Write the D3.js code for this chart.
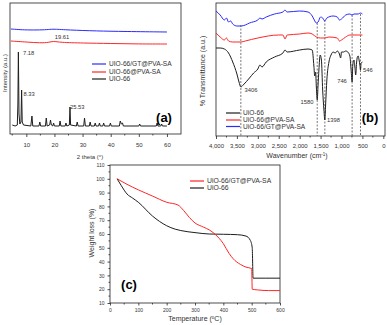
<!DOCTYPE html>
<html>
<head>
<meta charset="utf-8">
<script src="https://cdn.jsdelivr.net/npm/d3@7"></script>
<style>
body { margin: 0; background: #fff; }
svg { display: block; font-family: "Liberation Sans", Arial, sans-serif; }
.axis path, .axis line { stroke: #222; stroke-width: 0.8; }
.axis text { fill: #333; }
</style>
</head>
<body>
<div id="chart"></div>
<script>
// ---- panel (a) XRD : [2 theta, intensity a.u.]
const xrdUio = [[5,9],[6,8],[6.8,9],[7.0,30],[7.18,82],[7.4,20],[7.7,10],[8.1,12],[8.33,44],[8.55,12],[9,9],
  [11.6,8],[12.0,18],[12.3,8],[14.5,8],[14.8,12],[15.1,8],[16.8,8],[17.1,16],[17.4,8],[18.3,9],[18.6,14],[18.9,9],
  [19.4,8],[19.7,11],[20,8],[21.7,8],[22.0,13],[22.3,8],[23.8,8],[24.1,11],[24.4,8],[25.3,9],[25.53,27],[25.75,9],
  [27.8,8],[28.1,12],[28.4,8],[30.4,8],[30.7,16],[31.0,8],[32.4,8],[32.7,12],[33,8],[34.2,8],[34.5,11],[34.8,8],
  [35.7,8],[36.0,11],[36.3,8],[37.2,8],[37.5,11],[37.8,8],[39.6,8],[39.9,11],[40.2,8],[43.1,8],[43.4,13],[43.8,10],
  [44.2,11],[44.5,8],[50.0,8],[50.3,10],[50.6,8],[56.2,8],[56.5,11],[56.8,8],[57.8,8],[58.1,10],[58.4,8],[60,8]];
const xrdPva = [[4.5,93],[7,92.5],[10,92],[15,91],[18,91.5],[19.6,93],[22,91.5],[30,91],[40,90.5],[50,90],[60,90]];
const xrdGt = [[4.5,105],[7,104.5],[10,104],[15,104],[18,104.5],[19.6,105],[25,104],[35,103],[45,102.5],[60,102]];
const xrdLabels = [["7.18",23,53,"start"],["8.33",23.5,94,"start"],["25.53",70,107,"start"],["19.61",62,37,"middle"]];
const xrdTicks = [10,20,30,40,50,60];

// ---- panel (b) FTIR : [wavenumber, transmittance a.u.]
const ftGt = [[4000,125],[3900,121],[3800,116],[3750,118],[3700,114],[3650,115],[3600,112],[3500,110],[3400,110],
  [3300,111],[3200,113],[3000,116],[2950,118],[2900,117],[2800,119],[2600,122],[2400,124],[2350,126],[2300,124],
  [2000,125],[1800,124],[1700,120],[1650,116],[1600,113],[1560,114],[1500,119],[1450,118],[1400,115],[1350,118],
  [1200,120],[1100,119],[1050,116],[1000,117],[900,121],[800,122],[750,121],[700,122],[600,122],[550,123],[500,122]];
const ftPva = [[4000,103],[3900,99],[3800,96],[3750,98],[3700,95],[3600,94],[3500,94],[3400,94],[3300,95],[3000,98],
  [2500,101],[2400,101],[2350,97],[2300,101],[2000,102],[1800,103],[1700,102],[1600,99],[1500,98],[1400,98],
  [1300,99],[1100,98],[1050,95],[1000,96],[900,99],[800,101],[700,101],[600,101],[500,101]];
const ftUio = [[4000,88],[3900,88],[3800,87],[3700,83],[3600,74],[3500,62],[3450,54],[3406,49],[3350,51],[3200,58],
  [3100,63],[3000,67],[2950,71],[2900,69],[2800,74],[2600,79],[2400,83],[2350,86],[2300,84],[2000,86],[1800,87],
  [1700,86],[1660,70],[1640,60],[1620,64],[1600,48],[1580,36],[1560,51],[1540,66],[1510,81],[1480,76],[1450,46],
  [1420,26],[1398,16],[1380,31],[1350,56],[1300,74],[1250,81],[1200,84],[1150,83],[1100,85],[1050,82],[1020,78],
  [1000,84],[950,84],[900,85],[850,84],[800,80],[770,66],[746,54],[730,71],[700,76],[680,69],[660,61],[640,73],
  [620,79],[600,80],[580,76],[560,71],[546,66],[530,73],[500,74]];
const ftPeaks = [[3406,111],[1580,113],[1398,116],[746,121],[546,122]];
const ftLabels = [["3406",251,90,"middle"],["1580",307,102,"middle"],["1398",327,120,"start"],["746",342,81,"middle"],["546",363,70,"start"]];
const ftTicks = [4000,3500,3000,2500,2000,1500,1000,500,0];

// ---- panel (c) TGA : [temperature C, weight %]
const tgaGt = [[25,100],[60,96],[100,92],[150,87.5],[200,83],[240,81],[260,77],[280,72],[300,68],[330,65],[350,63],
  [370,60],[400,53],[420,46],[435,42],[460,38],[480,36],[500,35],[502,20],[520,19.5],[560,19],[600,19]];
const tgaUio = [[25,100],[40,95],[60,89],[80,86],[100,83],[150,73],[200,66],[230,63.5],[250,62.5],[300,61],[350,60],
  [400,59.8],[450,59.5],[480,58.5],[495,55.5],[502,50],[505,28],[550,28],[600,28]];
const tgaXTicks = [0,100,200,300,400,500,600];
const tgaYTicks = [10,20,30,40,50,60,70,80,90,100,110];

const BLUE = "#2b2bff", RED = "#ff2626", BLACK = "#1e1e1e";

const svg = d3.select("#chart").append("svg").attr("width", 387).attr("height", 325);

function frame(x0, x1, y0, y1) {
  svg.append("rect").attr("x", x0).attr("y", y0).attr("width", x1 - x0).attr("height", y1 - y0)
    .attr("fill", "none").attr("stroke", "#222").attr("stroke-width", 0.8);
}
function curve(data, x, y, color, type) {
  svg.append("path").datum(data).attr("fill", "none").attr("stroke", color).attr("stroke-width", 1)
    .attr("d", d3.line().x(d => x(d[0])).y(d => y(d[1])).curve(type || d3.curveLinear));
}
function minor(x, vals, y0, len) {
  svg.append("g").selectAll("line").data(vals).join("line")
    .attr("x1", d => x(d)).attr("x2", d => x(d)).attr("y1", y0).attr("y2", y0 + len)
    .attr("stroke", "#222").attr("stroke-width", 0.8);
}
function legend(items, x0, fs) {
  items.forEach(([name, color, y]) => {
    svg.append("line").attr("x1", x0).attr("x2", x0 + 14).attr("y1", y).attr("y2", y)
      .attr("stroke", color).attr("stroke-width", 1.2);
    svg.append("text").attr("x", x0 + 17).attr("y", y).attr("dy", "0.35em")
      .style("font-size", fs + "px").attr("fill", "#333").text(name);
  });
}

// ================= (a)
const xa = d3.scaleLinear().domain([4.2, 65]).range([10, 181]);
const ya = d3.scaleLinear().domain([0, 131]).range([134, 3]);
frame(10, 181, 3, 134);
svg.append("g").attr("class", "axis").attr("transform", "translate(0,134)")
  .call(d3.axisBottom(xa).tickValues(xrdTicks).tickSize(3).tickPadding(6))
  .call(g => g.select(".domain").remove())
  .selectAll("text").style("font-size", "6px");
minor(xa, [5, 15, 25, 35, 45, 55], 134, 1.5);
curve(xrdGt, xa, ya, BLUE, d3.curveBasis);
curve(xrdPva, xa, ya, RED, d3.curveBasis);
curve(xrdUio, xa, ya, BLACK);
xrdLabels.forEach(([t, x, y, a]) => svg.append("text").attr("x", x).attr("y", y).attr("dy", "0.35em")
  .attr("text-anchor", a).style("font-size", "5.8px").attr("fill", "#333").text(t));
legend([["UIO-66/GT@PVA-SA", BLUE, 64], ["UIO-66@PVA-SA", RED, 72], ["UIO-66", BLACK, 79]], 92, 6.6);
svg.append("text").attr("x", 164).attr("y", 117).attr("dy", "0.35em").attr("text-anchor", "middle")
  .style("font-size", "13px").style("font-weight", "bold").text("(a)");
svg.append("text").attr("x", 90).attr("y", 157).attr("dy", "0.35em").attr("text-anchor", "middle")
  .style("font-size", "6px").attr("fill", "#333").text("2 theta (°)");
svg.append("text").attr("transform", "translate(5,73) rotate(-90)").attr("dy", "0.35em").attr("text-anchor", "middle")
  .style("font-size", "6px").attr("fill", "#333").text("Intensity (a.u.)");

// ================= (b)
const xb = d3.scaleLinear().domain([4000, -40]).range([216, 385]);
const yb = d3.scaleLinear().domain([0, 133]).range([136, 3]);
frame(216, 385, 3, 136);
svg.append("g").attr("class", "axis").attr("transform", "translate(0,136)")
  .call(d3.axisBottom(xb).tickValues(ftTicks).tickSize(3).tickPadding(5))
  .call(g => g.select(".domain").remove())
  .selectAll("text").style("font-size", "6px");
minor(xb, [3750, 3250, 2750, 2250, 1750, 1250, 750, 250], 136, 1.5);
svg.append("g").selectAll("line").data(ftPeaks).join("line")
  .attr("x1", d => xb(d[0])).attr("x2", d => xb(d[0])).attr("y1", d => yb(d[1])).attr("y2", yb(0))
  .attr("stroke", "#555").attr("stroke-width", 0.8).attr("stroke-dasharray", "2,1.5");
curve(ftGt, xb, yb, BLUE, d3.curveMonotoneX);
curve(ftPva, xb, yb, RED, d3.curveMonotoneX);
curve(ftUio, xb, yb, BLACK, d3.curveMonotoneX);
ftLabels.forEach(([t, x, y, a]) => svg.append("text").attr("x", x).attr("y", y).attr("dy", "0.35em")
  .attr("text-anchor", a).style("font-size", "5.8px").attr("fill", "#333").text(t));
legend([["UiO-66", BLACK, 113], ["UiO-66@PVA-SA", RED, 120], ["UiO-66/GT@PVA-SA", BLUE, 126.5]], 226, 6.6);
svg.append("text").attr("x", 370).attr("y", 117).attr("dy", "0.35em").attr("text-anchor", "middle")
  .style("font-size", "13px").style("font-weight", "bold").text("(b)");
svg.append("text").attr("x", 297).attr("y", 156).attr("dy", "0.35em").attr("text-anchor", "middle")
  .style("font-size", "7px").attr("fill", "#333").html("Wavenumber (cm<tspan dy='-2.5' font-size='4.5px'>-1</tspan><tspan dy='2.5'>)</tspan>");
svg.append("text").attr("transform", "translate(203,71) rotate(-90)").attr("dy", "0.35em").attr("text-anchor", "middle")
  .style("font-size", "7px").attr("fill", "#333").text("% Transmittance (a.u.)");

// ================= (c)
const xc = d3.scaleLinear().domain([0, 600]).range([110, 280]);
const yc = d3.scaleLinear().domain([10, 110]).range([303, 165]);
frame(110, 280, 165, 303);
svg.append("g").attr("class", "axis").attr("transform", "translate(0,303)")
  .call(d3.axisBottom(xc).tickValues(tgaXTicks).tickSize(2.5).tickPadding(3))
  .call(g => g.select(".domain").remove())
  .selectAll("text").style("font-size", "5px");
minor(xc, [50, 150, 250, 350, 450, 550], 303, 1.5);
svg.append("g").attr("class", "axis").attr("transform", "translate(110,0)")
  .call(d3.axisLeft(yc).tickValues(tgaYTicks).tickSize(2.5).tickPadding(3))
  .call(g => g.select(".domain").remove())
  .selectAll("text").style("font-size", "5px");
svg.append("g").selectAll("line").data([15, 25, 35, 45, 55, 65, 75, 85, 95, 105]).join("line")
  .attr("x1", 110).attr("x2", 108.5).attr("y1", d => yc(d)).attr("y2", d => yc(d))
  .attr("stroke", "#222").attr("stroke-width", 0.8);
curve(tgaUio, xc, yc, BLACK, d3.curveMonotoneX);
curve(tgaGt, xc, yc, RED, d3.curveMonotoneX);
legend([["UiO-66/GT@PVA-SA", RED, 181], ["UiO-66", BLACK, 188]], 190, 6.8);
svg.append("text").attr("x", 129).attr("y", 284).attr("dy", "0.35em").attr("text-anchor", "middle")
  .style("font-size", "13px").style("font-weight", "bold").text("(c)");
svg.append("text").attr("x", 195).attr("y", 319).attr("dy", "0.35em").attr("text-anchor", "middle")
  .style("font-size", "7px").attr("fill", "#333").html("Temperature (<tspan dy='-2' font-size='4.5px'>o</tspan><tspan dy='2'>C)</tspan>");
svg.append("text").attr("transform", "translate(92,233) rotate(-90)").attr("dy", "0.35em").attr("text-anchor", "middle")
  .style("font-size", "7px").attr("fill", "#333").text("Weight loss (%)");
</script>
</body>
</html>
